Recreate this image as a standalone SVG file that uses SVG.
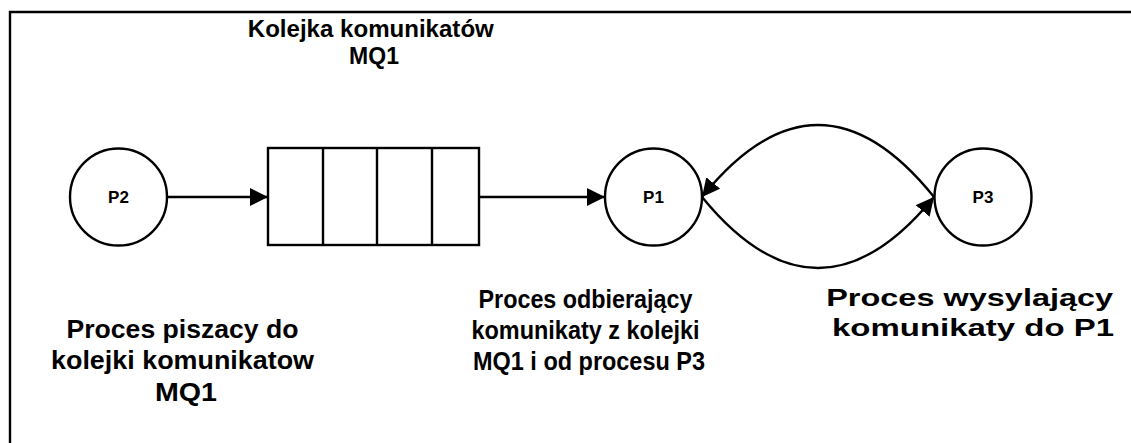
<svg xmlns="http://www.w3.org/2000/svg" width="1131" height="443" viewBox="0 0 1131 443">
  <style>
    .ln { fill: none; stroke: #000; stroke-width: 2.4; }
    .nd { fill: #fff; stroke: #000; stroke-width: 2.4; }
    .lb { font-family: "Liberation Sans", Arial, sans-serif; font-weight: bold; fill: #000; text-anchor: middle; }
  </style>
  <defs>
    <marker id="head" markerWidth="20" markerHeight="20" refX="18" refY="9" orient="auto" markerUnits="userSpaceOnUse">
      <path d="M0,0 L18,9 L0,18 Z" fill="#000"/>
    </marker>
  </defs>
  <rect width="1131" height="443" fill="#fff"/>

  <!-- frame edges (top and left) -->
  <path class="ln" d="M10,443 L10,12 L1131,12"/>

  <!-- connectors -->
  <g id="connectors">
    <path class="ln" d="M167,197 L268,197" marker-end="url(#head)"/>
    <path class="ln" d="M479,197 L605,197" marker-end="url(#head)"/>
    <path class="ln" d="M934,197 Q818,53 702,197" marker-end="url(#head)"/>
    <path class="ln" d="M702,197 Q818,339 934,197" marker-end="url(#head)"/>
  </g>

  <g id="P2">
    <circle class="nd" cx="118.5" cy="197" r="48.5"/>
    <text class="lb" x="118.5" y="203" font-size="17">P2</text>
  </g>

  <g id="MQ1">
    <rect class="nd" x="268" y="148" width="211" height="97"/>
    <path class="ln" d="M323,148 V245 M377,148 V245 M432,148 V245"/>
    <text class="lb" font-size="23">
      <tspan x="374" y="37" textLength="246" lengthAdjust="spacingAndGlyphs">Kolejka komunikatów</tspan>
      <tspan x="374" y="64">MQ1</tspan>
    </text>
  </g>

  <g id="P1">
    <circle class="nd" cx="653.5" cy="197" r="48.5"/>
    <text class="lb" x="653.5" y="203" font-size="17">P1</text>
  </g>

  <g id="P3">
    <circle class="nd" cx="983" cy="197" r="48.5"/>
    <text class="lb" x="983" y="203" font-size="17">P3</text>
  </g>

  <g id="desc-P2">
    <text class="lb" font-size="25">
      <tspan x="186" y="338" textLength="232" lengthAdjust="spacingAndGlyphs">Proces piszacy do</tspan>
      <tspan x="186" y="369" textLength="263" lengthAdjust="spacingAndGlyphs">kolejki komunikatow</tspan>
      <tspan x="186" y="401" textLength="62" lengthAdjust="spacingAndGlyphs">MQ1</tspan>
    </text>
  </g>

  <g id="desc-P1">
    <text class="lb" font-size="25">
      <tspan x="589" y="308" textLength="214" lengthAdjust="spacingAndGlyphs">Proces odbierający</tspan>
      <tspan x="589" y="339" textLength="228" lengthAdjust="spacingAndGlyphs">komunikaty z kolejki</tspan>
      <tspan x="589" y="370" textLength="232" lengthAdjust="spacingAndGlyphs">MQ1 i od procesu P3</tspan>
    </text>
  </g>

  <g id="desc-P3">
    <text class="lb" font-size="24">
      <tspan x="973" y="306" textLength="287" lengthAdjust="spacingAndGlyphs">Proces wysylający</tspan>
      <tspan x="973" y="336" textLength="282" lengthAdjust="spacingAndGlyphs">komunikaty do P1</tspan>
    </text>
  </g>
</svg>
